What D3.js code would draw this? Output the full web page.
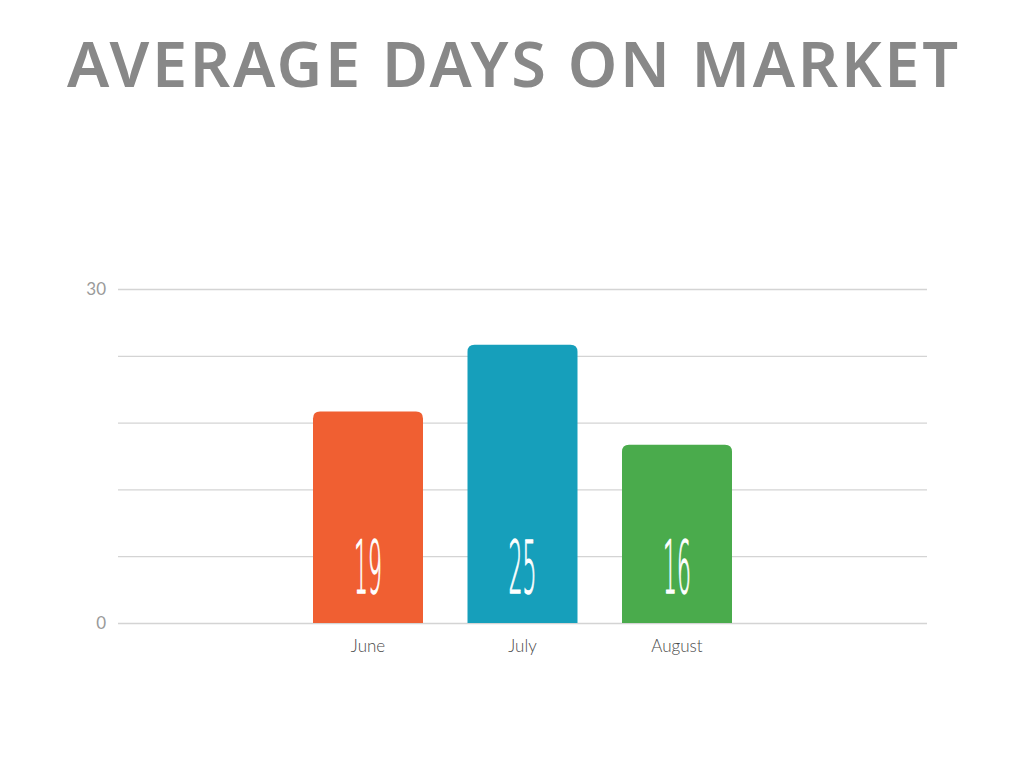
<!DOCTYPE html>
<html><head><meta charset="utf-8">
<script src="https://cdn.jsdelivr.net/npm/d3@7"></script>
<style>body{margin:0;background:#fff;}svg{display:block;}</style>
</head><body>
<svg id="c" width="1024" height="768"></svg>
<script>
const title = "AVERAGE DAYS ON MARKET";
const categories = ["June", "July", "August"];
const values = [19, 25, 16];
const colors = ["#F05F32", "#169FBB", "#4AAB4C"];
const yTickLabels = [0, 30];
const gridValues = [0, 6, 12, 18, 24, 30];

const svg = d3.select("#c");
const y = d3.scaleLinear().domain([0, 30]).range([623, 289]);
const x = d3.scaleBand().domain(categories).range([313, 732]).paddingInner(0.288).paddingOuter(0);
const plotLeft = 118, plotRight = 927;

svg.append("text").attr("x", 67).attr("y", 87)
  .attr("textLength", 891).attr("lengthAdjust", "spacing")
  .attr("font-family", "'Noto Sans', sans-serif").attr("font-weight", 600)
  .attr("font-size", 63).attr("fill", "#888888").text(title);

svg.append("g").selectAll("line").data(gridValues).join("line")
  .attr("x1", plotLeft).attr("x2", plotRight)
  .attr("y1", d => y(d) + 0.5).attr("y2", d => y(d) + 0.5)
  .attr("stroke", "#d4d4d4").attr("stroke-width", 1.3);

svg.append("g").selectAll("text").data(yTickLabels).join("text")
  .attr("x", 106).attr("y", d => y(d) + 6).attr("text-anchor", "end")
  .attr("font-family", "Lato, sans-serif").attr("font-size", 17).attr("fill", "#9a9a9a")
  .text(d => d);

const r = 7;
svg.append("g").selectAll("path").data(values).join("path")
  .attr("fill", (d, i) => colors[i])
  .attr("d", (d, i) => {
    const x0 = x(categories[i]), w = x.bandwidth(), y0 = y(d), yb = y(0);
    return `M${x0},${yb} L${x0},${y0 + r} Q${x0},${y0} ${x0 + r},${y0} L${x0 + w - r},${y0} Q${x0 + w},${y0} ${x0 + w},${y0 + r} L${x0 + w},${yb} Z`;
  });

svg.append("g").selectAll("text").data(values).join("text")
  .attr("transform", (d, i) => `translate(${x(categories[i]) + x.bandwidth() / 2},593) scale(0.3,1)`)
  .attr("text-anchor", "middle")
  .attr("font-family", "'DejaVu Sans', sans-serif").attr("font-weight", 200)
  .attr("font-size", 73).attr("fill", "#ffffff")
  .attr("stroke", "#ffffff").attr("stroke-width", 1).attr("vector-effect", "non-scaling-stroke")
  .text(d => d);

svg.append("g").selectAll("text").data(categories).join("text")
  .attr("x", d => x(d) + x.bandwidth() / 2).attr("y", 652).attr("text-anchor", "middle")
  .attr("font-family", "Lato, sans-serif").attr("font-weight", 300).attr("font-size", 17).attr("fill", "#4a4a4a")
  .text(d => d);
</script>
</body></html>
